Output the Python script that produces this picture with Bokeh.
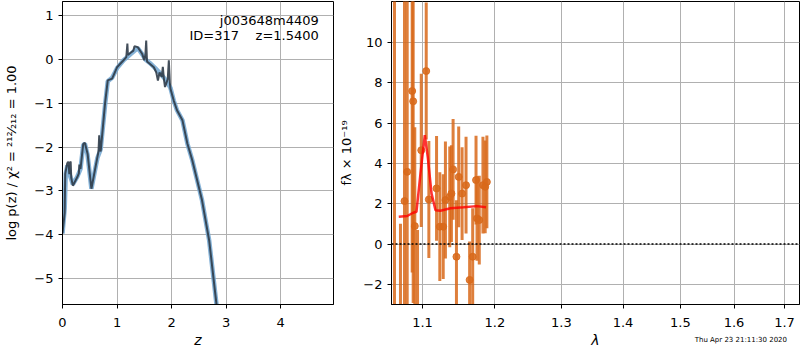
from bokeh.plotting import figure
from bokeh.layouts import row, column
from bokeh.models import (ColumnDataSource, Label, Span, FixedTicker,
                          PrintfTickFormatter, Range1d, Div)
from bokeh.embed import file_html
from bokeh.resources import INLINE

# ---------------- data: redshift probability ----------------
z_smooth = [0.0, 0.04, 0.06, 0.09, 0.13, 0.19, 0.27, 0.33, 0.38, 0.41, 0.46,
            0.53, 0.64, 0.70, 0.78, 0.83, 0.91, 1.00, 1.12, 1.25, 1.38, 1.46,
            1.52, 1.60, 1.70, 1.80, 1.90, 1.98, 2.04, 2.10, 2.20, 2.29, 2.38,
            2.50, 2.56, 2.69, 2.83]
logp_smooth = [-3.97, -3.4, -2.6, -2.42, -2.62, -2.85, -2.68, -2.5, -1.96,
               -1.92, -2.18, -2.95, -2.25, -2.05, -1.05, -0.5, -0.42, -0.2,
               -0.02, 0.12, 0.26, 0.12, 0.0, -0.08, -0.2, -0.33, -0.48, -0.65,
               -0.94, -1.16, -1.39, -1.92, -2.3, -2.91, -3.22, -4.13, -5.65]

z_pz = [0.0, 0.04, 0.05, 0.085, 0.10, 0.11, 0.125, 0.14, 0.15, 0.16, 0.19,
        0.27, 0.30, 0.31, 0.33, 0.38, 0.41, 0.46, 0.53, 0.64, 0.66, 0.673,
        0.69, 0.70, 0.78, 0.83, 0.91, 1.00, 1.12, 1.17, 1.19, 1.20, 1.25,
        1.30, 1.32, 1.38, 1.46, 1.50, 1.52, 1.535, 1.55, 1.60, 1.675, 1.72,
        1.75, 1.78, 1.82, 1.84, 1.86, 1.88, 1.93, 1.95, 1.97, 1.98, 2.04,
        2.10, 2.20, 2.29, 2.38, 2.50, 2.56, 2.69, 2.83]
logp_pz = [-3.97, -3.5, -2.61, -2.38, -2.34, -2.35, -2.62, -2.35, -2.33, -2.7,
           -2.88, -2.69, -2.6, -2.4, -2.5, -1.93, -1.9, -2.15, -2.95, -2.23,
           -2.1, -1.73, -2.05, -2.1, -1.01, -0.48, -0.44, -0.18, -0.02, 0.05,
           0.36, 0.1, 0.15, 0.2, 0.3, 0.28, 0.13, -0.02, 0.1, 0.43, -0.05,
           -0.1, -0.18, -0.3, -0.48, -0.3, -0.4, -0.17, -0.45, -0.63, -0.45,
           -0.02, -0.55, -0.67, -0.94, -1.16, -1.39, -1.92, -2.3, -2.91,
           -3.22, -4.13, -5.65]

# ---------------- data: spectrum ----------------
lam = [1.0635, 1.0712, 1.0764, 1.0799, 1.0864, 1.0877, 1.0898, 1.0934, 1.0983,
       1.1049, 1.1084, 1.1187, 1.1231, 1.1277, 1.1307, 1.1366, 1.1389, 1.1412,
       1.1458, 1.1489, 1.1536, 1.1591, 1.1641, 1.1684, 1.1731, 1.1745, 1.1777,
       1.1829, 1.1861, 1.1885]
flux = [14.0, -3.8, 2.13, 3.58, 7.59, 7.08, 0.89, -4.2, 4.65, 8.58, 2.21, 2.76,
        0.86, 0.86, 2.18, 2.34, 2.5, 3.7, -0.63, 3.33, 2.5, 2.92, -1.78, -0.63,
        3.17, 1.27, 1.19, 2.92, 2.84, 3.08]
err = [20.0, 4.8, 12.0, 15.0, 9.0, 10.0, 4.9, 4.9, 3.8, 3.4, 2.9, 2.6, 2.7,
       2.6, 2.9, 2.5, 2.4, 2.5, 2.8, 2.5, 2.3, 2.4, 1.9, 2.4, 2.2, 2.1, 2.2,
       2.4, 2.3, 2.3]

lam_model = [1.069, 1.0799, 1.0877, 1.092, 1.0973, 1.103, 1.107, 1.112,
             1.1173, 1.124, 1.1376, 1.1557, 1.1745, 1.1873]
flux_model = [1.35, 1.39, 1.55, 1.6, 3.5, 5.4, 4.3, 2.5, 1.68, 1.65, 1.77,
              1.82, 1.88, 1.82]

z_ticks = [0, 1, 2, 3, 4]
logp_ticks = [-5, -4, -3, -2, -1, 0, 1]
lam_ticks = [1.1, 1.2, 1.3, 1.4, 1.5, 1.6, 1.7]
flux_ticks = [-2, 0, 2, 4, 6, 8, 10]

title_name = "j003648m4409"
title_info = "ID=317\u00a0\u00a0\u00a0\u00a0z=1.5400"
stamp = "Thu Apr 23 21:11:30 2020"

FONT = "DejaVu Sans"
GRID = "#b0b0b0"


def style(p):
    p.outline_line_color = "black"
    p.outline_line_width = 1
    p.outline_line_alpha = 1
    p.background_fill_color = "white"
    p.border_fill_color = "white"
    for ax in (p.xaxis[0], p.yaxis[0]):
        ax.axis_line_color = "black"
        ax.major_tick_line_color = "black"
        ax.major_tick_out = 4
        ax.major_tick_in = 0
        ax.minor_tick_line_color = None
        ax.major_label_text_font = FONT
        ax.major_label_text_font_size = "13px"
        ax.major_label_text_color = "black"
        ax.axis_label_text_font = FONT
        ax.axis_label_text_font_size = "13px"
        ax.axis_label_text_font_style = "normal"
        ax.axis_label_text_color = "black"
    p.xaxis.major_label_standoff = 9
    p.xgrid.grid_line_color = GRID
    p.ygrid.grid_line_color = GRID
    p.xgrid.grid_line_width = 1
    p.ygrid.grid_line_width = 1


H = 350

# ---------------- left panel ----------------
p1 = figure(width=335, height=H, output_backend="svg", toolbar_location=None,
            x_range=Range1d(0, 4.97), y_range=Range1d(-5.59, 1.32),
            min_border_left=62, min_border_right=2, min_border_top=1,
            min_border_bottom=H - 304)
style(p1)
p1.xaxis.ticker = FixedTicker(ticks=z_ticks)
p1.yaxis.ticker = FixedTicker(ticks=logp_ticks)
p1.xaxis.axis_label = "z"
p1.xaxis.axis_label_text_font_style = "italic"
p1.xaxis.axis_label_text_font_size = "14px"
p1.yaxis.axis_label = "log p(z) / \u03c7\u00b2 = \u00b2\u00b9\u00b2\u2044\u2082\u2081\u2082 = 1.00"
p1.xaxis.axis_label_standoff = 2
p1.yaxis.axis_label_standoff = 12

p1.line(z_smooth, logp_smooth, line_color="#78aad3", line_width=4.5, line_alpha=0.9)
p1.line(z_pz, logp_pz, line_color="#2f3b48", line_width=2.0, line_alpha=0.9)

p1.add_layout(Label(x=4.70, y=0.89, text=title_name, text_align="right",
                    text_baseline="middle", text_font=FONT,
                    text_font_size="13px", text_color="black"))
p1.add_layout(Label(x=4.70, y=0.55, text=title_info, text_align="right",
                    text_baseline="middle", text_font=FONT,
                    text_font_size="13px", text_color="black"))

# ---------------- right panel ----------------
p2 = figure(width=465, height=H, output_backend="svg", toolbar_location=None,
            x_axis_type="log",
            x_range=Range1d(1.0597, 1.731), y_range=Range1d(-3.0, 12.03),
            min_border_left=56, min_border_right=1, min_border_top=1,
            min_border_bottom=H - 304)
style(p2)
p2.xaxis.ticker = FixedTicker(ticks=lam_ticks)
p2.xaxis.formatter = PrintfTickFormatter(format="%.1f")
p2.yaxis.ticker = FixedTicker(ticks=flux_ticks)
p2.xaxis.axis_label = "\u03bb"
p2.xaxis.axis_label_text_font_style = "italic"
p2.xaxis.axis_label_text_font_size = "14px"
p2.yaxis.axis_label = "f\u03bb \u00d7 10\u207b\u00b9\u2079"
p2.xaxis.axis_label_standoff = 2
p2.yaxis.axis_label_standoff = 6

lo = [f - e for f, e in zip(flux, err)]
hi = [f + e for f, e in zip(flux, err)]
src = ColumnDataSource(dict(lam=lam, flux=flux, lo=lo, hi=hi))

ORANGE = "#d8681a"
p2.segment(x0="lam", y0="lo", x1="lam", y1="hi", source=src,
           line_color=ORANGE, line_width=3, line_alpha=0.85)
p2.scatter("lam", "flux", source=src, size=7, fill_color=ORANGE,
           line_color=ORANGE, fill_alpha=0.85, line_alpha=0.85)

p2.add_layout(Span(location=0, dimension="width", line_color="black",
                   line_dash="2 2", line_width=1.5))

p2.line(lam_model, flux_model, line_color="red", line_width=2.5, line_alpha=0.8)

stamp_div = Div(text=stamp, width=110, height=10,
                margin=(-15, 0, 0, 677),
                styles={"font-size": "7px", "font-family": FONT,
                        "text-align": "right", "color": "black",
                        "line-height": "10px"})

layout = column(row(p1, p2), stamp_div)
open("out.html", "w").write(file_html(layout, INLINE))
